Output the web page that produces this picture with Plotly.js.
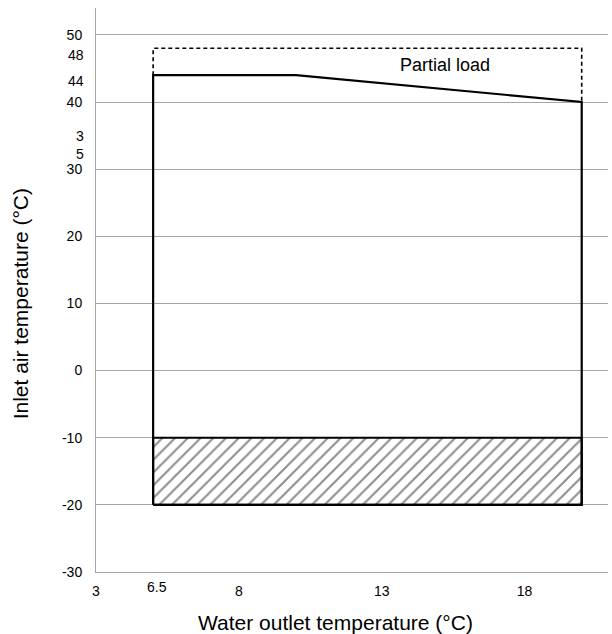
<!DOCTYPE html>
<html>
<head>
<meta charset="utf-8">
<script src="https://cdn.plot.ly/plotly-3.0.1.min.js"></script>
<style>
  html, body { margin: 0; padding: 0; background: #fff; }
  #chart { width: 612px; height: 634px; }
</style>
</head>
<body>
<div id="chart"></div>
<script>
// Operating envelope (water outlet °C vs inlet air °C)
const envelopeX = [5, 5, 10, 20, 20, 5];
const envelopeY = [-20, 44, 44, 40, -20, -20];

// Partial load region (dashed)
const partialX = [5, 5, 20, 20];
const partialY = [44, 48, 48, 40];

// Hatched low-temperature band
const hatchX = [5, 20, 20, 5, 5];
const hatchY = [-20, -20, -10, -10, -20];

// Axis ticks
const xTickVals = [3, 8, 13, 18];
const yTickVals = [-30, -20, -10, 0, 10, 20, 30, 40, 50];

// Extra hand-placed labels
const extraXLabel = { text: "6.5", value: 5.14 };
const extraYLabels = [
  { text: "48", value: 47.0 },
  { text: "44", value: 43.1 },
  { text: "3<br>5", value: 33.6 }
];
const partialLabel = { text: "Partial load", x: 15.2, y: 45.5 };

const FONT = "Liberation Sans, Arial, sans-serif";
const GRID = "#a6a6a6";
const TICK = 14;

const traces = [
  {
    x: hatchX, y: hatchY, type: "scatter", mode: "lines",
    fill: "toself", fillcolor: "rgba(0,0,0,0)",
    fillpattern: { shape: "/", size: 9, solidity: 0.22, fgcolor: "#8c8c8c", bgcolor: "#ffffff" },
    line: { color: "#000", width: 2 }, hoverinfo: "skip", showlegend: false
  },
  {
    x: partialX, y: partialY, type: "scatter", mode: "lines",
    line: { color: "#000", width: 1.6, dash: "4px,3px" }, hoverinfo: "skip", showlegend: false
  },
  {
    x: envelopeX, y: envelopeY, type: "scatter", mode: "lines",
    line: { color: "#000", width: 2.2 }, hoverinfo: "skip", showlegend: false
  }
];

const annotations = [];
annotations.push({
  text: extraXLabel.text, xref: "x", yref: "paper", x: extraXLabel.value, y: 0,
  yanchor: "middle", yshift: -14.5, showarrow: false,
  font: { family: FONT, size: TICK, color: "#000" }
});
extraYLabels.forEach(l => annotations.push({
  text: l.text, xref: "paper", yref: "y", x: 0, y: l.value,
  xanchor: "right", xshift: -10, showarrow: false, align: "right",
  font: { family: FONT, size: TICK, color: "#000" }
}));
annotations.push({
  text: partialLabel.text, xref: "x", yref: "y", x: partialLabel.x, y: partialLabel.y,
  showarrow: false, font: { family: FONT, size: 18, color: "#000" }
});
annotations.push({
  text: "Water outlet temperature (°C)", xref: "paper", yref: "paper",
  x: (335 - 95.5) / 512.5, y: 0, yanchor: "middle", yshift: -50.5, showarrow: false,
  font: { family: FONT, size: 21, color: "#000" }
});
annotations.push({
  text: "Inlet air temperature (°C)", xref: "paper", yref: "paper",
  x: 0, xanchor: "center", xshift: -75.5, y: (572.3 - 304) / 564.3, yanchor: "middle",
  textangle: -90, showarrow: false,
  font: { family: FONT, size: 21, color: "#000" }
});

const layout = {
  width: 612, height: 634,
  margin: { l: 95.5, r: 4, t: 8, b: 61.7, pad: 0 },
  paper_bgcolor: "#fff", plot_bgcolor: "#fff",
  showlegend: false,
  xaxis: {
    range: [3, 20.92], tickvals: xTickVals, ticktext: xTickVals.map(String),
    showgrid: false, zeroline: false, showline: true, linecolor: GRID, linewidth: 1,
    ticks: "", ticklabelstandoff: 6,
    tickfont: { family: FONT, size: TICK, color: "#000" }
  },
  yaxis: {
    range: [-30, 54], tickvals: yTickVals, ticktext: yTickVals.map(String),
    showgrid: true, gridcolor: GRID, gridwidth: 1, zeroline: false,
    showline: true, linecolor: GRID, linewidth: 1,
    ticks: "", ticklabelstandoff: 10,
    tickfont: { family: FONT, size: TICK, color: "#000" }
  },
  annotations: annotations
};

Plotly.newPlot("chart", traces, layout, { staticPlot: true, displayModeBar: false });
</script>
</body>
</html>
